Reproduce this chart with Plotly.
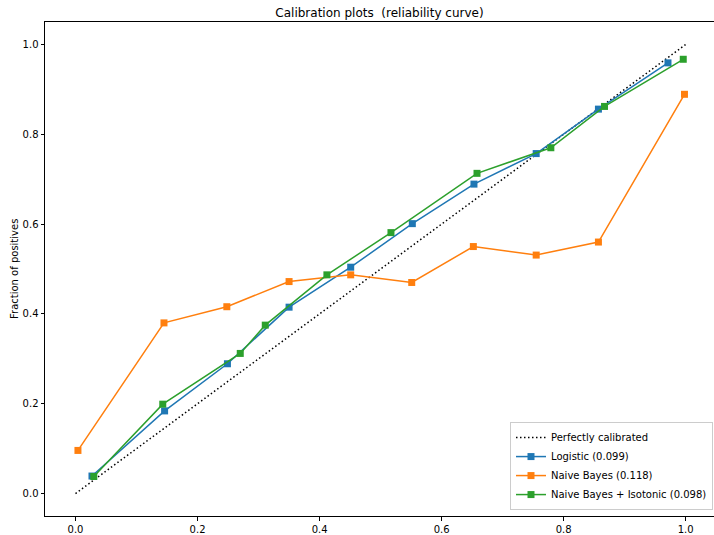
import plotly.graph_objects as go

# Mean predicted value / fraction of positives per bin
logistic_x = [0.027, 0.146, 0.249, 0.350, 0.451, 0.552, 0.653, 0.755, 0.857, 0.971]
logistic_y = [0.039, 0.184, 0.289, 0.415, 0.504, 0.601, 0.689, 0.757, 0.856, 0.959]

nb_x = [0.004, 0.145, 0.248, 0.350, 0.451, 0.551, 0.652, 0.755, 0.857, 0.998]
nb_y = [0.096, 0.380, 0.416, 0.472, 0.487, 0.470, 0.550, 0.531, 0.560, 0.889]

iso_x = [0.030, 0.143, 0.270, 0.311, 0.412, 0.517, 0.658, 0.779, 0.867, 0.996]
iso_y = [0.038, 0.199, 0.312, 0.375, 0.487, 0.581, 0.713, 0.770, 0.862, 0.967]

diag = [0.0, 1.0]

names = ["Logistic (0.099)", "Naive Bayes (0.118)", "Naive Bayes + Isotonic (0.098)"]
colors = ["#1f77b4", "#ff7f0e", "#2ca02c"]
tick_vals = [0.0, 0.2, 0.4, 0.6, 0.8, 1.0]
tick_text = ["0.0", "0.2", "0.4", "0.6", "0.8", "1.0"]

fig = go.Figure()
fig.add_trace(go.Scatter(x=diag, y=diag, mode="lines", name="Perfectly calibrated",
                         line=dict(color="black", dash="1.5px,2.5px", width=1.5)))
for xs, ys, nm, c in zip([logistic_x, nb_x, iso_x], [logistic_y, nb_y, iso_y], names, colors):
    fig.add_trace(go.Scatter(x=xs, y=ys, mode="lines+markers", name=nm,
                             line=dict(color=c, width=1.5),
                             marker=dict(symbol="square", size=7, color=c)))

axis_common = dict(showgrid=False, zeroline=False, showline=True, linecolor="black",
                   linewidth=1, ticks="outside", ticklen=3.5, tickcolor="black",
                   automargin=False, tickfont=dict(size=10, color="black"))

fig.update_layout(
    width=714, height=535,
    margin=dict(l=45, r=0, t=22, b=19),
    paper_bgcolor="white", plot_bgcolor="white",
    font=dict(family="DejaVu Sans", color="black"),
    title=dict(text="Calibration plots  (reliability curve)", x=0.5, xref="paper",
               xanchor="center", y=0.977, yanchor="middle", font=dict(size=12)),
    xaxis=dict(range=[-0.05, 1.0464], tickvals=tick_vals, ticktext=tick_text,
               mirror=True, **axis_common),
    yaxis=dict(range=[-0.05, 1.05], tickvals=tick_vals, ticktext=tick_text,
               **axis_common),
    legend=dict(x=0.9985, y=0.012, xanchor="right", yanchor="bottom",
                bgcolor="rgba(255,255,255,0.8)", bordercolor="#cccccc", borderwidth=1,
                font=dict(size=10), tracegroupgap=0, itemwidth=30),
    showlegend=True,
)

# y-axis label placed as a rotated annotation to the left of the tick labels
fig.add_annotation(text="Fraction of positives", xref="paper", yref="paper",
                   x=-31 / 669, y=0.5, xanchor="center", yanchor="middle",
                   textangle=-90, showarrow=False, font=dict(size=10))

fig.write_html("out.html")
